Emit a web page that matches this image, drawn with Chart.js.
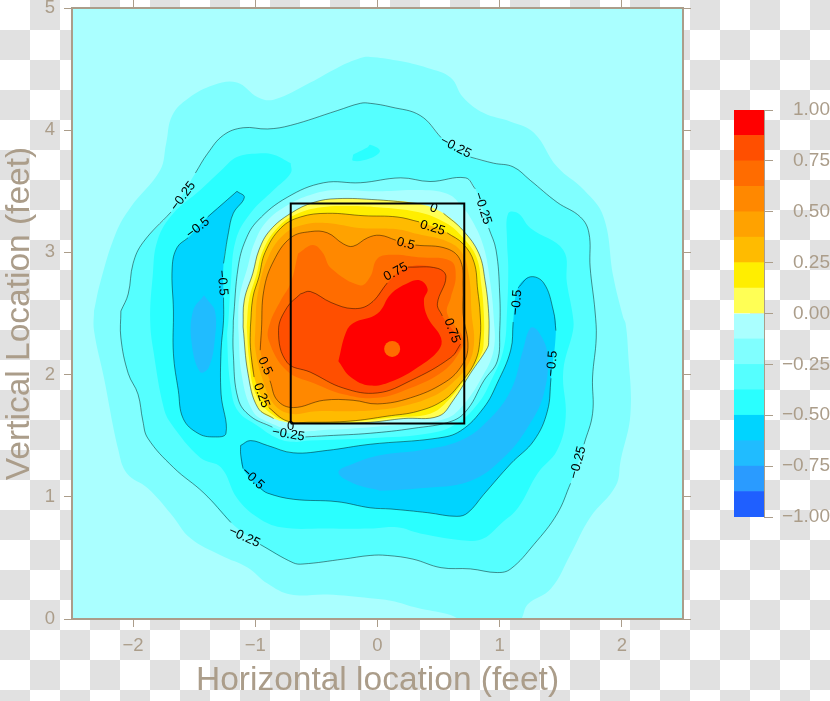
<!DOCTYPE html>
<html>
<head>
<meta charset="utf-8">
<title>Contour</title>
<script src="https://cdn.jsdelivr.net/npm/chart.js@4"></script>
<style>
  html, body { margin: 0; padding: 0; }
  body {
    width: 830px;
    height: 701px;
    overflow: hidden;
    position: relative;
    background: conic-gradient(#e1e1e1 25%, #fff 0 50%, #e1e1e1 0 75%, #fff 0) 0 0 / 60px 60px;
  }
  canvas { position: absolute; }
</style>
</head>
<body>
<canvas id="chart" width="830" height="701" style="left:0;top:0"></canvas>
<canvas id="bar" width="130" height="450" style="left:700px;top:90px"></canvas>
<script>
// contour levels in feet, null marks where a contour label breaks the line
const outerM0125 = [[-2.32,2.52],[-2.32,2.36],[-2.24,1.98],[-2.12,1.38],[-2.05,1.19],[-1.88,1.07],[-1.69,0.86],[-1.53,0.66],[-1.28,0.52],[-1.06,0.42],[-0.90,0.29],[-0.71,0.20],[-0.41,0.20],[-0.06,0.17],[0.11,0.15],[0.33,0.09],[0.57,0.04],[0.74,-0.02],[1.15,-0.02],[1.23,0.12],[1.42,0.25],[1.58,0.53],[1.74,0.83],[1.95,1.09],[1.99,1.30],[2.07,1.68],[2.05,2.20],[2.03,2.42],[2.01,2.47],[1.93,2.80],[1.85,3.29],[1.69,3.51],[1.47,3.70],[1.28,3.98],[1.09,4.07],[0.87,4.14],[0.70,4.27],[0.60,4.43],[0.41,4.51],[0.16,4.57],[-0.06,4.60],[-0.14,4.59],[-0.33,4.51],[-0.55,4.39],[-0.85,4.25],[-0.98,4.27],[-1.15,4.39],[-1.34,4.37],[-1.55,4.26],[-1.68,4.12],[-1.73,3.89],[-1.78,3.67],[-2.02,3.37],[-2.14,3.16],[-2.27,2.75]];
const outerM025 = [[-2.10,2.52],[-2.10,2.30],[-2.04,2.01],[-1.96,1.84],[-1.92,1.62],[-1.88,1.48],[-1.67,1.24],[-1.42,1.03],[-1.20,0.79],null,[-0.96,0.61],[-0.69,0.46],[-0.61,0.45],[-0.28,0.49],[-0.06,0.52],[0.08,0.52],[0.29,0.49],[0.52,0.42],[0.76,0.41],[0.98,0.38],[1.09,0.41],[1.28,0.61],[1.47,0.86],[1.58,1.11],null,[1.69,1.43],[1.76,1.68],[1.76,1.98],[1.79,2.30],[1.78,2.52],[1.74,2.88],[1.73,3.16],[1.66,3.29],[1.47,3.41],[1.25,3.59],[1.11,3.70],[0.95,3.73],[0.76,3.78],null,[0.52,3.94],[0.35,4.12],[0.11,4.19],[-0.06,4.22],[-0.14,4.22],[-0.33,4.16],[-0.71,4.04],[-0.90,4.01],[-1.10,4.02],[-1.26,3.96],[-1.39,3.81],[-1.49,3.65],null,[-1.69,3.33],[-1.92,3.08],[-2.00,2.91],[-2.04,2.66]];
const ringM0375 = [[-0.71,3.73],[-0.85,3.80],[-0.98,3.81],[-1.15,3.78],[-1.28,3.67],[-1.45,3.51],[-1.67,3.32],[-1.80,3.10],[-1.84,2.80],[-1.86,2.44],[-1.83,2.17],[-1.75,1.73],[-1.69,1.60],[-1.45,1.32],[-1.28,1.24],[-1.15,0.99],[-0.98,0.83],[-0.79,0.75],[-0.41,0.74],[-0.06,0.74],[0.16,0.75],[0.35,0.70],[0.74,0.64],[0.87,0.66],[1.01,0.78],[1.15,0.91],[1.31,1.19],[1.47,1.38],[1.54,1.65],[1.52,2.03],[1.60,2.36],[1.60,2.47],[1.55,2.75],[1.52,3.02],[1.25,3.20],[1.15,3.32],[1.07,3.32],[1.06,3.10],[1.07,2.88],[1.06,2.52],[1.03,2.20],[0.92,1.93],[0.82,1.76],[0.65,1.60],[0.43,1.52],[-0.06,1.48],[-0.55,1.46],[-0.69,1.45],[-0.82,1.48],[-0.98,1.58],[-1.14,1.70],[-1.20,1.89],[-1.23,2.30],[-1.22,2.44],[-1.20,2.75],[-1.16,3.10],[-1.04,3.32],[-0.85,3.51],[-0.71,3.65]];
const topM0375 = [[-0.20,3.80],[-0.08,3.86],[-0.06,3.88],[0.02,3.83],[-0.06,3.77],[-0.20,3.75]];
const leftM05 = [[-1.15,3.50],[-1.09,3.45],[-1.18,3.32],[-1.22,3.16],[-1.26,2.91],null,[-1.26,2.63],[-1.26,2.44],[-1.28,2.20],[-1.28,1.84],[-1.24,1.52],[-1.34,1.49],[-1.47,1.52],[-1.59,1.64],[-1.63,1.87],[-1.67,2.17],[-1.67,2.52],[-1.68,2.88],[-1.64,3.04],[-1.55,3.12],null,[-1.39,3.29],[-1.23,3.43]];
const leftM0625 = [[-1.42,2.65],[-1.51,2.52],[-1.52,2.25],[-1.45,2.02],[-1.38,2.06],[-1.33,2.30],[-1.33,2.52],[-1.39,2.61]];
const bottomM05 = [[-1.12,1.42],[-1.04,1.46],[-0.90,1.42],[-0.69,1.36],[-0.41,1.38],[-0.06,1.43],[0.49,1.48],[0.68,1.54],[0.87,1.73],[0.98,1.93],[1.09,2.20],[1.11,2.43],null,[1.15,2.71],[1.25,2.80],[1.36,2.75],[1.44,2.52],[1.46,2.36],null,[1.42,1.97],[1.39,1.70],[1.28,1.46],[1.09,1.27],[0.87,1.02],[0.74,0.87],[0.65,0.84],[0.41,0.87],[0.11,0.90],[-0.06,0.91],[-0.33,0.96],[-0.69,0.98],[-0.90,1.03],[-0.96,1.07],null,[-1.10,1.23],[-1.12,1.35]];
const bottomM0625 = [[0.02,1.05],[0.35,1.07],[0.76,1.13],[1.03,1.32],[1.23,1.57],[1.36,1.84],[1.39,2.17],[1.31,2.36],[1.25,2.38],[1.19,2.20],[1.09,1.87],[0.90,1.62],[0.68,1.46],[0.35,1.38],[0.02,1.34],[-0.20,1.27],[-0.32,1.20],[-0.20,1.11]];
const innerM025 = [[-1.18,2.44],[-1.14,2.88],[-1.08,3.10],[-0.98,3.26],[-0.74,3.45],[-0.44,3.57],[-0.14,3.57],[0.19,3.61],[0.43,3.58],[0.72,3.61],[0.80,3.52],null,[0.91,3.20],[0.97,3.02],[1.00,2.66],[1.00,2.36],[0.98,2.11],[0.87,1.95],[0.74,1.72],[0.61,1.62],[0.29,1.56],[-0.06,1.52],[-0.41,1.50],[-0.59,1.49],null,[-0.86,1.57],[-1.04,1.66],[-1.14,1.80],[-1.18,2.17]];
const innerM0125 = [[-1.14,2.39],[-1.13,2.63],[-1.06,2.89],[-1.01,3.07],[-0.91,3.25],[-0.73,3.39],[-0.52,3.48],[-0.33,3.51],[0,3.50],[0.33,3.51],[0.57,3.48],[0.68,3.39],[0.78,3.25],[0.87,3.04],[0.92,2.77],[0.95,2.48],[0.95,2.20],[0.85,1.97],[0.70,1.75],[0.56,1.64],[0.27,1.60],[-0.06,1.57],[-0.38,1.55],[-0.67,1.54],[-0.89,1.61],[-1.02,1.70],[-1.11,1.99]];
const level0 = [[-1.10,2.39],[-1.09,2.61],[-1.02,2.83],[-0.97,3.02],[-0.88,3.18],[-0.71,3.32],[-0.52,3.41],[-0.33,3.44],[0,3.43],[0.33,3.40],null,[0.54,3.32],[0.70,3.18],[0.83,2.99],[0.88,2.77],[0.91,2.50],[0.91,2.28],[0.90,2.22],[0.76,2.01],[0.62,1.79],[0.50,1.66],[0.21,1.64],[-0.06,1.61],[-0.38,1.60],[-0.66,1.60],null,[-0.85,1.64],[-0.98,1.73],[-1.06,2.01]];
const level0125 = [[-1.07,2.39],[-1.05,2.62],[-0.99,2.82],[-0.94,3.01],[-0.83,3.19],[-0.67,3.31],[-0.46,3.37],[-0.22,3.38],[0,3.37],[0.33,3.33],[0.56,3.24],[0.70,3.12],[0.81,2.96],[0.85,2.73],[0.87,2.50],[0.87,2.29],[0.85,2.17],[0.72,1.97],[0.58,1.79],[0.43,1.68],[0.15,1.65],[-0.14,1.62],[-0.46,1.60],[-0.70,1.61],[-0.87,1.68],[-1.00,1.85],[-1.05,2.12]];
const level025 = [[-1.04,2.39],[-1.02,2.63],[-0.97,2.80],[-0.92,3.00],[-0.79,3.20],[-0.63,3.29],[-0.41,3.32],[-0.11,3.30],[0.16,3.29],[0.34,3.25],null,[0.57,3.16],[0.70,3.07],[0.79,2.92],[0.82,2.69],[0.84,2.50],[0.84,2.30],[0.80,2.11],[0.68,1.93],[0.54,1.79],[0.33,1.70],[0.08,1.66],[-0.22,1.62],[-0.55,1.61],[-0.74,1.62],[-0.89,1.73],null,[-1.01,1.98],[-1.04,2.22]];
const level0375 = [[-1.00,2.38],[-0.98,2.66],[-0.89,2.97],[-0.75,3.16],[-0.59,3.23],[-0.41,3.24],[-0.15,3.20],[0.16,3.19],[0.33,3.15],[0.57,3.09],[0.69,3.00],[0.75,2.80],[0.77,2.50],[0.79,2.26],[0.74,2.08],[0.61,1.93],[0.45,1.82],[0.20,1.74],[0,1.71],[-0.21,1.70],[-0.50,1.70],[-0.71,1.68],[-0.85,1.76],[-0.94,1.96],[-1.00,2.21]];
const level05 = [[-0.95,2.36],[-0.93,2.69],[-0.85,2.93],[-0.71,3.12],[-0.55,3.17],[-0.41,3.16],[-0.28,3.07],[-0.20,3.05],[-0.08,3.12],[0.02,3.14],[0.15,3.10],null,[0.31,3.06],[0.57,3.03],[0.68,2.93],[0.70,2.71],[0.70,2.50],[0.74,2.22],[0.68,2.06],[0.54,1.93],[0.27,1.81],[0,1.76],[-0.20,1.79],[-0.44,1.79],[-0.69,1.73],[-0.82,1.79],[-0.88,1.95],null,[-0.96,2.20]];
const level0625 = [[-0.65,2.99],[-0.53,3.06],[-0.45,3.00],[-0.38,2.87],[-0.14,2.73],[-0.06,2.80],[0,2.95],[0.13,2.98],[0.33,2.96],[0.60,2.93],[0.64,2.80],[0.60,2.63],[0.57,2.50],[0.70,2.30],[0.68,2.20],[0.54,2.03],[0.27,1.89],[0,1.81],[-0.28,1.84],[-0.52,1.93],[-0.74,2.03],[-0.89,2.28],[-0.88,2.42],[-0.79,2.61],[-0.71,2.75]];
const level075 = [[-0.63,2.66],[-0.55,2.68],[-0.38,2.59],[-0.20,2.54],[-0.06,2.58],[0.08,2.75],null,[0.25,2.88],[0.49,2.87],[0.56,2.80],[0.49,2.58],[0.53,2.48],null,[0.68,2.25],[0.60,2.14],[0.27,1.95],[0,1.85],[-0.28,1.89],[-0.55,2.02],[-0.74,2.10],[-0.81,2.36],[-0.74,2.55]];
const level0875 = [[-0.32,2.11],[-0.26,2.34],[-0.20,2.42],[0,2.50],[0.11,2.66],[0.25,2.75],[0.35,2.77],[0.41,2.70],[0.38,2.61],[0.41,2.47],[0.52,2.30],[0.50,2.20],[0.33,2.06],[0.13,1.95],[-0.06,1.91],[-0.22,1.98]];
const peak = [[0.12,2.21]];
const strikeX = [-0.71, 0.71, 0.71, -0.71, -0.71];
const strikeY = [1.60, 1.60, 3.40, 3.40, 1.60];

const xTicks = [-2, -1, 0, 1, 2];
const yTicks = [0, 1, 2, 3, 4, 5];

const labelText = ["\u22120.25","\u22120.5","\u22120.5","\u22120.25","\u22120.25","0","0.25","0.5","0.75","\u22120.5","0.75","\u22120.5","\u22120.25","0.5","0.25","0","\u22120.25","\u22120.5","\u22120.25"];
const labelX = [-1.59,-1.47,-1.27,0.64,0.86,0.46,0.45,0.23,0.15,1.14,0.61,1.43,1.64,-0.92,-0.95,-0.71,-0.73,-1.02,-1.09];
const labelY = [3.46,3.20,2.75,3.86,3.36,3.36,3.20,3.07,2.84,2.59,2.36,2.09,1.28,2.07,1.83,1.58,1.51,1.15,0.67];
const labelAngle = [-53,-38,85,27,72,20,17,15,-28,-85,70,-85,-75,65,70,0,10,42,25];

const barLevels = [-1,-0.875,-0.75,-0.625,-0.5,-0.375,-0.25,-0.125,0,0.125,0.25,0.375,0.5,0.625,0.75,0.875,1];
const barColors = ["#1f5fff","#2a9bff","#20bcff","#00d4ff","#2affff","#55ffff","#80ffff","#aaffff","#ffff55","#ffee00","#ffbb00","#ffa200","#ff8800","#ff6c00","#ff4f00","#ff0000"];

const TAN = "#ab9d8a";
const FONT = "'Liberation Sans', Arial, sans-serif";

function pts(arr) {
  return arr.map((p) => (p ? { x: p[0], y: p[1] } : { x: NaN, y: NaN }));
}
function closedFill(arr) {
  const a = arr.filter((p) => p);
  return pts(a.concat([a[0]]));
}
function closedLine(arr) {
  return pts(arr.concat([arr[0]]));
}
function colorOf(level) {
  return barColors[barLevels.indexOf(level)];
}
function noEdgePadding(scale) {
  scale.paddingTop = 0;
  scale.paddingBottom = 0;
  scale.paddingLeft = 0;
  scale.paddingRight = 0;
}
function fixedTicks(values) {
  return (scale) => {
    scale.ticks = values.map((value) => ({ value }));
  };
}

// painted bottom to top
const fills = [
  [outerM0125, -0.25],
  [outerM025, -0.375],
  [ringM0375, -0.5],
  [topM0375, -0.5],
  [leftM05, -0.625],
  [leftM0625, -0.75],
  [bottomM05, -0.625],
  [bottomM0625, -0.75],
  [innerM025, -0.25],
  [innerM0125, -0.125],
  [level0, 0],
  [level0125, 0.125],
  [level025, 0.25],
  [level0375, 0.375],
  [level05, 0.5],
  [level0625, 0.625],
  [level075, 0.75],
  [level0875, 0.875],
];
const lines = [outerM025, leftM05, bottomM05, innerM025, level0, level025, level05, level075];

const datasets = [];
for (const [arr, level] of fills) {
  datasets.push({
    data: closedFill(arr),
    showLine: true,
    fill: "shape",
    backgroundColor: colorOf(level),
    borderWidth: 0,
    pointRadius: 0,
    tension: 0.4,
  });
}
datasets.push({
  data: pts(peak),
  showLine: false,
  backgroundColor: colorOf(0.625),
  borderWidth: 0,
  pointRadius: 8,
});
for (const arr of lines) {
  datasets.push({
    data: closedLine(arr),
    showLine: true,
    fill: false,
    borderColor: "rgba(0,0,0,0.75)",
    borderWidth: 0.6,
    pointRadius: 0,
    tension: 0.4,
  });
}
datasets.push({
  data: strikeX.map((x, i) => ({ x, y: strikeY[i] })),
  showLine: true,
  fill: false,
  borderColor: "#000",
  borderWidth: 2,
  pointRadius: 0,
  tension: 0,
});
// Chart.js paints the first dataset last
datasets.reverse();

const plotBackground = {
  id: "plotBackground",
  beforeDatasetsDraw(chart) {
    const a = chart.chartArea;
    chart.ctx.save();
    chart.ctx.fillStyle = "#aaffff";
    chart.ctx.fillRect(a.left, a.top, a.right - a.left, a.bottom - a.top);
    chart.ctx.restore();
  },
};

const contourLabels = {
  id: "contourLabels",
  afterDatasetsDraw(chart) {
    const ctx = chart.ctx;
    ctx.save();
    ctx.font = "13px " + FONT;
    ctx.fillStyle = "#000";
    ctx.textAlign = "center";
    ctx.textBaseline = "middle";
    labelText.forEach((t, i) => {
      ctx.save();
      ctx.translate(chart.scales.x.getPixelForValue(labelX[i]), chart.scales.y.getPixelForValue(labelY[i]));
      ctx.rotate((labelAngle[i] * Math.PI) / 180);
      ctx.fillText(t, 0, 0);
      ctx.restore();
    });
    ctx.restore();
  },
};

function minusTick(v) {
  return v < 0 ? "\u2212" + Math.abs(v) : String(v);
}
const axisBorder = { color: TAN, width: 2, z: 1 };
const axisGrid = { drawOnChartArea: false, color: TAN, tickLength: 8, tickWidth: 1 };

new Chart(document.getElementById("chart"), {
  type: "scatter",
  data: { datasets },
  plugins: [plotBackground, contourLabels],
  options: {
    responsive: false,
    animation: false,
    layout: { padding: 0 },
    plugins: { legend: { display: false }, tooltip: { enabled: false } },
    scales: {
      x: {
        type: "linear",
        position: "bottom",
        min: -2.5,
        max: 2.5,
        border: axisBorder,
        grid: axisGrid,
        afterBuildTicks: fixedTicks(xTicks),
        afterFit(scale) { scale.height = 82; noEdgePadding(scale); },
        ticks: {
          color: TAN,
          padding: 8,
          maxRotation: 0,
          font: { family: FONT, size: 18.5 },
          callback: minusTick,
        },
        title: {
          display: true,
          text: "Horizontal location (feet)",
          color: TAN,
          font: { family: FONT, size: 33.5 },
          padding: { top: 0, bottom: 0 },
        },
      },
      y: {
        type: "linear",
        position: "left",
        min: 0,
        max: 5,
        border: axisBorder,
        grid: axisGrid,
        afterBuildTicks: fixedTicks(yTicks),
        afterFit(scale) { scale.width = 72; noEdgePadding(scale); },
        ticks: {
          color: TAN,
          padding: 9,
          font: { family: FONT, size: 18.5 },
          callback: minusTick,
        },
        title: {
          display: true,
          text: "Vertical Location (feet)",
          color: TAN,
          font: { family: FONT, size: 33.5 },
          padding: { top: 0, bottom: 0 },
        },
      },
      xTop: {
        type: "linear",
        position: "top",
        min: -2.5,
        max: 2.5,
        border: axisBorder,
        grid: axisGrid,
        afterBuildTicks: fixedTicks(xTicks),
        afterFit(scale) { scale.height = 8; noEdgePadding(scale); },
        ticks: { display: false },
      },
      yRight: {
        type: "linear",
        position: "right",
        min: 0,
        max: 5,
        border: axisBorder,
        grid: axisGrid,
        afterBuildTicks: fixedTicks(yTicks),
        afterFit(scale) { scale.width = 147; noEdgePadding(scale); },
        ticks: { display: false },
      },
    },
  },
});

// colour key
new Chart(document.getElementById("bar"), {
  type: "bar",
  data: {
    labels: [""],
    datasets: barColors.map((c, i) => ({
      data: [[barLevels[i], barLevels[i + 1]]],
      backgroundColor: c,
      borderWidth: 0,
      barPercentage: 1,
      categoryPercentage: 1,
      grouped: false,
    })),
  },
  options: {
    responsive: false,
    animation: false,
    layout: { padding: { left: 34, top: 20, bottom: 23, right: 0 } },
    plugins: { legend: { display: false }, tooltip: { enabled: false } },
    scales: {
      x: { display: false },
      y: {
        position: "right",
        min: -1,
        max: 1,
        border: { color: TAN, width: 1, z: 1 },
        grid: { drawOnChartArea: false, color: TAN, tickLength: 9 },
        afterFit(scale) { scale.width = 66; noEdgePadding(scale); },
        ticks: {
          stepSize: 0.25,
          color: TAN,
          padding: 8,
          crossAlign: "far",
          font: { family: FONT, size: 19 },
          callback(v) { return (v < 0 ? "\u2212" : "") + Math.abs(v).toFixed(2); },
        },
      },
    },
  },
});
</script>
</body>
</html>
